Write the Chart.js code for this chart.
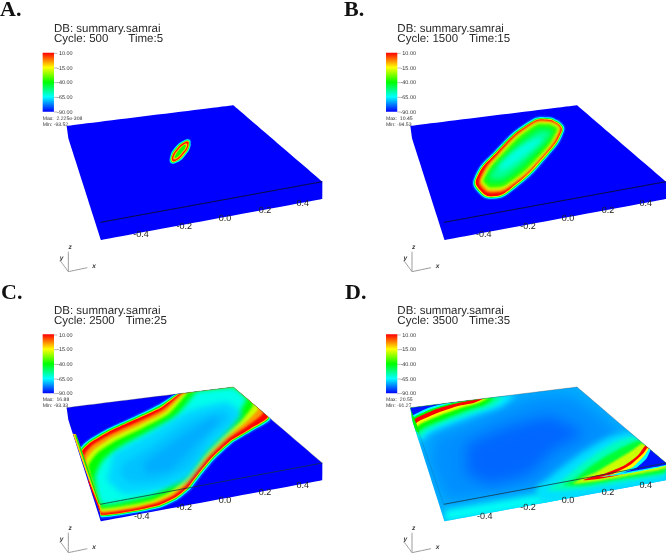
<!DOCTYPE html>
<html><head><meta charset="utf-8">
<script src="https://cdn.jsdelivr.net/npm/chart.js@4/dist/chart.umd.min.js"></script>
<style>
html,body{margin:0;padding:0;width:666px;height:554px;overflow:hidden;background:#fff}
canvas{position:absolute;filter:blur(0.4px)}
.tag{position:absolute;font:bold 22px "Liberation Serif",serif;color:#111;line-height:22px}
</style></head><body>
<script>
const panelLetters=["A.","B.","C.","D."];
const cycles=[500,1500,2500,3500];
const times=[5,15,25,35];
const maxLabels=["2.225e-308","10.45","16.88","20.55"];
const minLabels=["-93.52","-94.53","-93.33","-91.27"];
const barLabels=["10.00","-15.00","-40.00","-65.00","-90.00"];
const axisLabels=["-0.4","-0.2","0.0","0.2","0.4"];
const colorStops=[[-90,[0,0,255]],[-65,[0,255,255]],[-40,[0,255,0]],[-15,[255,255,0]],[10,[255,0,0]]];

/* silhouette of the box: TL, TR, R, RB, FB, LB, then the front-top corner */
const boxA=[[200,378],[700,316],[967,545],[967,597],[303,720],[205,415]],cornerA=[301,667];
const boxB=[[232,378],[732,316],[999,545],[999,597],[335,720],[237,415]],cornerB=[333,667];
const boxC=[[200,392],[700,330],[967,558],[967,610],[303,733],[205,428]],cornerC=[300,682];
const boxD=[[232,392],[732,330],[999,558],[999,610],[335,733],[237,428]],cornerD=[332,682];

const axisPosA=[[423,705],[553,680],[675,655],[795,633],[908,612]];
const axisPosB=[[452,705],[585,680],[705,655],[825,633],[938,610]];
const axisPosC=[[425,718],[553,693],[675,670],[795,647],[908,625]];
const axisPosD=[[455,718],[585,693],[705,670],[825,647],[938,625]];

const baseLevels=[-90,-90,-90,-73];

const levelsA=[-85,-65,-40,-12,8,-10,-38];
const contoursA=[
[[571,418],[573,439],[556,468],[531,489],[511,490],[509,470],[525,441],[551,420]],
[[569,420],[571,439],[555,467],[531,487],[513,489],[511,470],[526,442],[551,422]],
[[567,423],[568,440],[553,465],[531,484],[515,487],[513,470],[528,444],[551,425]],
[[566,424],[566,440],[552,464],[531,482],[516,485],[515,469],[530,445],[551,427]],
[[565,426],[564,441],[550,462],[531,480],[518,483],[517,469],[531,447],[550,429]],
[[561,431],[560,442],[547,460],[532,475],[521,478],[522,467],[534,449],[550,434]],
[[557,435],[556,443],[545,458],[532,471],[524,474],[526,466],[536,451],[549,438]]];

const levelsB=[-85,-65,-40,-15,10,-5,-20,-35,-45,-55,-62];
const contoursB=[
[[648,348],[687,366],[696,396],[648,471],[543,573],[480,600],[432,579],[420,534],[483,450],[588,360]],
[[648,352],[684,369],[692,396],[645,468],[540,570],[480,596],[435,576],[424,534],[486,453],[590,363]],
[[647,355],[682,371],[689,395],[643,466],[538,568],[479,593],[437,574],[427,535],[488,455],[592,366]],
[[647,357],[680,373],[687,395],[641,464],[536,566],[479,591],[439,572],[429,535],[490,457],[593,368]],
[[647,359],[678,374],[685,395],[639,462],[535,564],[479,589],[441,570],[431,535],[491,458],[594,369]],
[[646,362],[677,375],[682,394],[638,461],[532,561],[477,578],[449,565],[441,536],[495,461],[595,372]],
[[646,366],[674,378],[677,394],[635,458],[529,556],[477,571],[453,558],[446,537],[498,464],[597,375]],
[[645,372],[670,382],[672,393],[631,455],[526,550],[477,563],[458,553],[452,538],[502,468],[600,380]],
[[643,380],[662,388],[663,396],[625,450],[522,542],[478,553],[464,547],[459,535],[508,474],[604,388]],
[[635,392],[650,396],[650,405],[612,446],[520,528],[485,538],[474,532],[474,522],[518,478],[610,400]],
[[612,415],[625,415],[625,422],[580,462],[520,505],[500,510],[497,503],[505,490],[545,452]]];

const levelsC=[-85,-65,-40,-10,10,-5,-20,-40,-63,-69,-71,-73,-10,10,-40];
const contoursC=[
[[522,350],[470,382],[400,416],[320,453],[262,487],[238,512],[300,682],[303,725],[400,712],[480,696],[535,672],[575,640],[605,600],[645,552],[700,500],[760,465],[815,428],[700,330]],
[[528,350],[475,384],[403,419],[322,456],[265,490],[241,516],[300,682],[303,720],[400,708],[480,692],[532,668],[571,636],[601,597],[641,549],[697,497],[757,461],[811,425],[700,330]],
[[532,350],[478,387],[405,422],[324,459],[267,493],[243,520],[300,682],[303,717],[400,705],[478,689],[530,665],[568,634],[598,595],[638,547],[695,495],[755,459],[808,422],[700,330]],
[[535,350],[481,390],[407,425],[326,462],[269,496],[245,523],[300,682],[303,715],[400,703],[476,687],[528,663],[566,632],[596,593],[636,545],[693,493],[753,457],[806,420],[700,330]],
[[538,350],[483,392],[408,427],[327,464],[270,498],[246,525],[300,682],[303,713],[400,701],[475,685],[526,661],[564,630],[594,591],[634,543],[691,491],[751,455],[804,418],[700,330]],
[[543,350],[488,398],[413,435],[332,472],[275,506],[252,538],[300,682],[303,707],[400,695],[470,679],[520,656],[558,626],[590,586],[630,538],[685,485],[742,447],[790,405],[700,330]],
[[550,350],[495,405],[420,443],[340,480],[283,517],[258,552],[300,682],[303,703],[400,690],[465,674],[515,652],[552,622],[585,581],[625,533],[680,480],[732,440],[775,392],[700,330]],
[[565,345],[505,412],[430,452],[350,490],[292,528],[265,568],[300,682],[303,695],[400,682],[460,668],[510,645],[545,616],[578,575],[618,527],[672,472],[722,432],[760,380],[700,330]],
[[590,342],[525,420],[445,465],[370,505],[310,548],[285,600],[305,682],[400,668],[455,655],[500,630],[535,602],[568,562],[608,515],[660,462],[705,420],[740,365],[700,330]],
[[340,530],[450,470],[570,400],[680,375],[725,410],[680,470],[620,530],[560,610],[470,640],[370,650],[320,610]],
[[370,560],[450,510],[570,430],[670,400],[690,425],[630,480],[570,570],[470,615],[390,615],[360,590]],
[[430,560],[540,480],[640,420],[660,430],[580,510],[510,580],[440,590]],
[[218,470],[228,472],[300,682],[303,715]],
[[262,610],[266,610],[298,690],[303,712]],
[[225,475],[229,475],[300,682],[296,680]]];

const levelsD=[-76,-80,-64,-60,-66,-55,-40,-15,10,-40,-65,-88,-68,-58,-45,-20,10,-15,-65,-88,-40];
const contoursD=[
[[300,480],[430,430],[600,360],[720,360],[860,470],[780,510],[700,560],[640,620],[560,640],[420,660],[345,670],[290,560]],
[[400,500],[520,450],[650,420],[750,470],[660,520],[590,590],[470,620],[400,590]],
[[335,700],[600,655],[660,650],[700,640],[700,670],[335,735]],
[[620,628],[660,625],[660,655],[620,660]],
[[232,392],[545,351],[505,387],[430,412],[350,442],[285,470],[262,495],[250,470]],
[[232,392],[510,356],[480,384],[420,405],[345,432],[280,460],[258,480],[245,450]],
[[232,392],[485,360],[455,383],[405,398],[335,425],[275,450],[254,465]],
[[232,392],[465,362],[435,378],[385,392],[325,413],[267,438],[250,450]],
[[232,392],[452,364],[422,378],[375,387],[315,407],[262,430],[247,440]],
[[232,392],[440,365],[405,372],[360,382],[305,398],[255,420],[243,428]],
[[232,392],[430,366],[395,371],[350,380],[295,396],[250,416],[240,422]],
[[232,392],[418,368],[385,370],[340,378],[285,393],[245,412],[238,416]],
[[890,465],[830,480],[760,520],[690,570],[640,610],[610,640],[640,690],[760,660],[999,620],[1010,555],[960,520]],
[[905,478],[850,495],[790,530],[730,575],[680,615],[640,640],[700,640],[780,630],[900,610],[999,590],[999,560],[945,510]],
[[918,488],[870,510],[815,540],[770,570],[720,610],[690,625],[760,625],[860,607],[999,585],[999,558],[945,510]],
[[928,498],[890,525],[840,555],[790,585],[745,605],[720,620],[800,611],[880,597],[999,574],[999,558],[945,510]],
[[937,505],[915,535],[875,565],[820,588],[775,600],[750,610],[800,605],[850,596],[900,585],[999,566],[999,558],[945,510]],
[[943,512],[930,530],[890,565],[840,590],[798,600],[870,592],[999,568],[999,558]],
[[948,514],[935,535],[900,570],[850,590],[800,600],[880,590],[999,566],[999,555]],
[[953,518],[940,545],[910,572],[870,587],[820,597],[900,582],[999,563],[999,555]],
[[234,400],[250,440],[258,468],[248,460],[240,440]]];

const allContours=[contoursA,contoursB,contoursC,contoursD];
const allLevels=[levelsA,levelsB,levelsC,levelsD];
const allBoxes=[boxA,boxB,boxC,boxD];
const allCorners=[cornerA,cornerB,cornerC,cornerD];
const allAxisPos=[axisPosA,axisPosB,axisPosC,axisPosD];
const tensions=[0.5,0.5,0.18,0.18];
const closedLoop=[true,true,false,false];
const sharpBlur=[0.35,0.55,0.65,0.65];
const softBlurs=[{},
  {5:0.8,6:1,7:1.2,8:1.8,9:2.5,10:2.5},
  {5:0.8,6:1.2,7:1.8,8:2.5,9:3,10:3,11:3},
  {0:7,1:7,2:3,3:3,4:3,5:2,6:1.5,7:1,12:3,13:2,14:1.5,15:1}];
const textX=[162,193,162,193];
const timeX=[385,408,377,408];
const rowShift=[0,0,14,14];
const tagPos=[[0,-2],[344,-2],[1,281],[345,281]];

function levelColor(v){
  for(let i=1;i<colorStops.length;i++){
    const [b,cb]=colorStops[i],[a,ca]=colorStops[i-1];
    if(v<=b){const t=Math.max(0,(v-a)/(b-a));
      return `rgb(${cb.map((c,k)=>Math.round(ca[k]+(c-ca[k])*t)).join(',')})`;}
  }
  return 'rgb(255,0,0)';
}
const pts=a=>a.map(p=>({x:p[0],y:p[1]}));

function drawPanel(n){
  const col=n%2,row=n>1?1:0,shift=rowShift[n];
  const cv=document.createElement('canvas');
  cv.width=333;cv.height=277;
  cv.style.left=(col*333)+'px';cv.style.top=(row*277)+'px';
  cv.style.width='333px';cv.style.height='277px';
  document.body.appendChild(cv);
  const context=cv.getContext('2d');
  const box=allBoxes[n],corner=allCorners[n],L=textX[n]-34,R=textX[n],barTop=158+shift,barBot=335+shift;
  const barGrad=context.createLinearGradient(0,barTop/3,0,barBot/3);
  colorStops.forEach(st=>barGrad.addColorStop((10-st[0])/100,levelColor(st[0])));
  const ds=[{data:pts(box),fill:'shape',backgroundColor:levelColor(baseLevels[n]),borderWidth:0,tension:0.001}];
  allContours[n].forEach((c,i)=>ds.push({data:pts(closedLoop[n]?c.concat([c[0],c[1]]):c),fill:'shape',backgroundColor:levelColor(allLevels[n][i]),borderWidth:0,tension:tensions[n]}));
  const lastField=ds.length-1;
  ds.push({data:pts([[L,barTop],[R,barTop],[R,barBot],[L,barBot]]),fill:'shape',borderWidth:0,tension:0.001,backgroundColor:barGrad});
  ds.push({data:pts([corner,box[2]]),fill:false,borderColor:n<2?'#0a0a30':'rgba(20,50,60,.85)',borderWidth:0.9,tension:0.001});
  if(n>1){
    ds.push({data:pts([box[0],box[1],box[2]]),fill:false,borderColor:'rgba(70,70,70,.6)',borderWidth:0.5,tension:0.001});
    ds.push({data:pts([box[0],corner]),fill:false,borderColor:'rgba(20,60,70,.35)',borderWidth:0.5,tension:0.001});
  }
  const ox=n%2?237:205,oy=n>1?827:815;
  const tips=[[ox,oy-60],[ox+57,oy-12],[ox-22,oy-30]];
  tips.forEach(t=>ds.push({data:pts([[ox,oy],t]),fill:false,borderColor:'#9a9a9a',borderWidth:1,tension:0.001}));
  ds.forEach((d,i)=>{d.order=-i;d.pointRadius=0;d.pointHoverRadius=0;});

  const filterFor=i=>`blur(${softBlurs[n][i-1]||sharpBlur[n]}px)`;
  const painter={id:'painter',
    beforeDatasetsDraw(ch){
      const c=ch.ctx,X=ch.scales.x,Y=ch.scales.y,px=(x,y)=>[X.getPixelForValue(x),Y.getPixelForValue(y)];
      c.save();c.textRendering='geometricPrecision';c.textBaseline='alphabetic';c.fillStyle='#2a2a2a';
      c.font='11.5px "Liberation Sans",sans-serif';
      let p=px(textX[n],97+shift);c.fillText('DB: summary.samrai',p[0],p[1]);
      p=px(textX[n],127+shift);c.fillText('Cycle: '+cycles[n],p[0],p[1]);
      p=px(timeX[n],127+shift);c.fillText('Time:'+times[n],p[0],p[1]);
      c.font='5.5px "Liberation Sans",sans-serif';c.fillStyle='#333';c.textAlign='right';
      barLabels.forEach((t,i)=>{const yy=160+shift+i*44;const q=px(R+56,yy+5);c.fillText(t,q[0],q[1]);
        const a=px(R,yy),b=px(R+10,yy);c.strokeStyle='#777';c.lineWidth=.5;c.beginPath();c.moveTo(a[0],a[1]);c.lineTo(b[0],b[1]);c.stroke();});
      c.textAlign='left';c.font='5.1px "Liberation Sans",sans-serif';
      p=px(L,359+shift);c.fillText('Max:  '+maxLabels[n],p[0],p[1]);
      p=px(L,377+shift);c.fillText('Min: '+minLabels[n],p[0],p[1]);
      c.restore();
    },
    afterDatasetDraw(ch,a){
      const c=ch.ctx;
      if(a.index===0){
        const X=ch.scales.x,Y=ch.scales.y;
        c.save();c.beginPath();
        box.forEach((b,i)=>{const x=X.getPixelForValue(b[0]),y=Y.getPixelForValue(b[1]);i?c.lineTo(x,y):c.moveTo(x,y);});
        c.closePath();c.clip();
      }
      if(a.index<lastField){c.filter=filterFor(a.index+1);}
      if(a.index===lastField){c.restore();}
    },
    afterDatasetsDraw(ch){
      const c=ch.ctx,X=ch.scales.x,Y=ch.scales.y;
      c.save();c.textRendering='geometricPrecision';c.fillStyle='#222';c.font='9px "Liberation Sans",sans-serif';c.textAlign='center';c.textBaseline='middle';
      allAxisPos[n].forEach((q,i)=>c.fillText(axisLabels[i],X.getPixelForValue(q[0]),Y.getPixelForValue(q[1])));
      c.font='italic bold 6.5px "Liberation Sans",sans-serif';c.fillStyle='#333';
      [['z',ox+5,oy-73],['x',ox+77,oy-15],['y',ox-20,oy-40]].forEach(t=>c.fillText(t[0],X.getPixelForValue(t[1]),Y.getPixelForValue(t[2])));
      c.restore();
    }};
  new Chart(context,{type:'line',data:{datasets:ds},plugins:[painter],options:{
    responsive:false,animation:false,devicePixelRatio:1,events:[],
    layout:{padding:0},
    plugins:{legend:{display:false},tooltip:{enabled:false},title:{display:false}},
    scales:{x:{type:'linear',display:false,min:0,max:999},y:{type:'linear',display:false,min:0,max:831,reverse:true}}
  }});
  const tag=document.createElement('div');tag.className='tag';tag.textContent=panelLetters[n];
  tag.style.left=tagPos[n][0]+'px';tag.style.top=tagPos[n][1]+'px';document.body.appendChild(tag);
}
[0,1,2,3].forEach(drawPanel);
</script>
</body></html>
